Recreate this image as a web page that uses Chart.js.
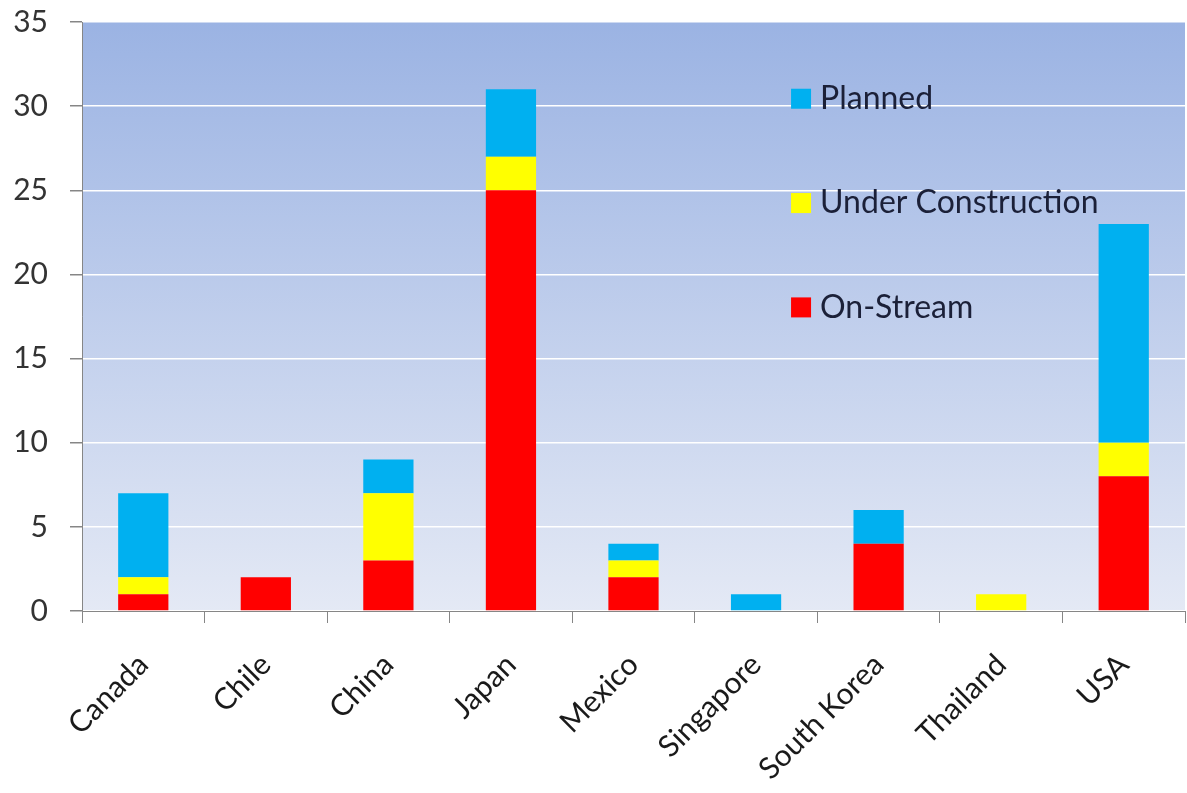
<!DOCTYPE html>
<html><head><meta charset="utf-8">
<script src="https://cdn.jsdelivr.net/npm/chart.js@4/dist/chart.umd.min.js"></script>
<style>html,body{margin:0;padding:0;background:#fff}#wrap{width:1187px;height:793px}</style>
</head><body><div id="wrap"><canvas id="c" width="1187" height="793"></canvas></div>
<script>
const categories = ["Canada","Chile","China","Japan","Mexico","Singapore","South Korea","Thailand","USA"];
const onStream = [1,2,3,25,2,0,4,0,8];
const underConstruction = [1,0,4,2,1,0,0,1,2];
const planned = [5,0,2,4,1,1,2,0,13];
const seriesNames = ["On-Stream","Under Construction","Planned"];
const seriesColors = ["#ff0000","#ffff00","#00b0f0"];
const legendOrder = [2,1,0];
const legendValues = [30.5, 24.3, 18.1];

const bgPlugin = {
  id:'bg',
  beforeDraw(chart){
    const {ctx, chartArea:a} = chart;
    const g = ctx.createLinearGradient(0,a.top,0,a.bottom);
    g.addColorStop(0,'#9bb3e3');
    g.addColorStop(1,'#e4e9f5');
    ctx.save(); ctx.fillStyle=g; ctx.fillRect(a.left,a.top,a.right-a.left,a.bottom-a.top); ctx.restore();
  }
};
const legendPlugin = {
  id:'inlegend',
  afterDatasetsDraw(chart){
    const {ctx, scales} = chart;
    const x = scales.x.getPixelForValue(5) + 35;
    ctx.save();
    ctx.font = '32px Lato';
    ctx.textBaseline='middle';
    legendOrder.forEach((si,i)=>{
      const y = scales.y.getPixelForValue(legendValues[i]);
      ctx.fillStyle = seriesColors[si];
      ctx.fillRect(x, y-9, 20, 20);
      ctx.fillStyle = '#1b2038';
      ctx.fillText(seriesNames[si], x+29, y+1);
    });
    ctx.restore();
  }
};
new Chart(document.getElementById('c'), {
  type:'bar',
  data:{labels:categories, datasets:[
    {label:seriesNames[0], data:onStream, backgroundColor:seriesColors[0]},
    {label:seriesNames[1], data:underConstruction, backgroundColor:seriesColors[1]},
    {label:seriesNames[2], data:planned, backgroundColor:seriesColors[2]}
  ]},
  options:{
    responsive:false, animation:false,
    layout:{padding:{top:22,right:2,left:0,bottom:0}},
    datasets:{bar:{categoryPercentage:1, barPercentage:0.41}},
    plugins:{legend:{display:false}, tooltip:{enabled:false}},
    scales:{
      x:{stacked:true,
        grid:{drawOnChartArea:false, color:'#868686', tickLength:12, offset:true},
        border:{color:'#868686', width:1},
        ticks:{color:'#1a1a1a', font:{family:'Lato', size:30}, minRotation:45, maxRotation:45, padding:24},
        afterFit(s){s.height=182; s.paddingTop=0; s.paddingBottom=0;}
      },
      y:{stacked:true, min:0, max:35,
        grid:{color:'#ffffff', tickColor:'#868686', tickLength:12, lineWidth:1.5},
        border:{color:'#868686', width:1},
        ticks:{stepSize:5, color:'#333', font:{family:'Lato', size:30}, padding:22},
        afterFit(s){s.width=82; s.paddingTop=0; s.paddingBottom=0;}
      }
    }
  },
  plugins:[bgPlugin, legendPlugin]
});
</script></body></html>
